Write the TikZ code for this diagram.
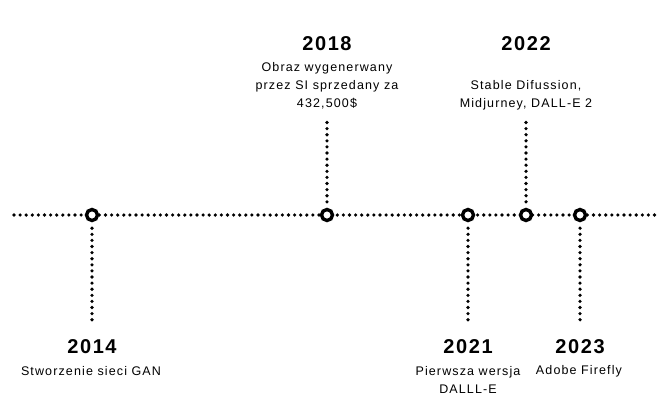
\documentclass[tikz,border=0pt]{standalone}
\usepackage{fontspec}
\newfontfamily\descfont[LetterSpace=9]{Liberation Sans}
\newfontfamily\yearfont[LetterSpace=8]{Liberation Sans Bold}
\begin{document}
\begin{tikzpicture}[x=1pt,y=-1pt,
  dotline/.style={line width=3.6pt,line cap=round,dash pattern=on 0pt off 6.1pt},
  marker/.style={circle,draw,line width=3.4pt,fill=white,minimum size=11pt,inner sep=0pt},
  year/.style={font=\yearfont\fontsize{20}{24}\selectfont,inner sep=0pt},
  desc/.style={font=\descfont\fontsize{12.5}{18}\selectfont,align=center,inner sep=0pt}]
\useasboundingbox[fill=white] (0,0) rectangle (663,400);
\coordinate (L) at (14,215);
\coordinate (R) at (658,215);
\draw[dotline] (L) -- (R);
\coordinate (e14) at (92,324);
\coordinate (e18) at (327,122);
\coordinate (e21) at (468,324);
\coordinate (e22) at (526,122);
\coordinate (e23) at (580,324);
\node[marker] (m14) at (92,215) {};
\node[marker] (m18) at (327,215) {};
\node[marker] (m21) at (468,215) {};
\node[marker] (m22) at (526,215) {};
\node[marker] (m23) at (580,215) {};
\draw[dotline] (m14.south) ++(0,6) -- (e14);
\draw[dotline] (m18.north) ++(0,-6) -- (e18);
\draw[dotline] (m21.south) ++(0,6) -- (e21);
\draw[dotline] (m22.north) ++(0,-6) -- (e22);
\draw[dotline] (m23.south) ++(0,6) -- (e23);
\node[year] (y18) at (327,44) {2018};
\node[desc] (d18) at (327,86) {Obraz wygenerwany\\przez SI sprzedany za\\432,500\$};
\node[year] (y22) at (526,44) {2022};
\node[desc] (d22) at (526,95) {Stable Difussion,\\Midjurney, DALL-E 2};
\node[year] (y14) at (92,347) {2014};
\node[desc] (d14) at (91,371) {Stworzenie sieci GAN};
\node[year] (y21) at (468,347) {2021};
\node[desc] (d21) at (468,380) {Pierwsza wersja\\DALLL-E};
\node[year] (y23) at (580,347) {2023};
\node[desc] (d23) at (579,371) {Adobe Firefly};
\end{tikzpicture}
\end{document}
